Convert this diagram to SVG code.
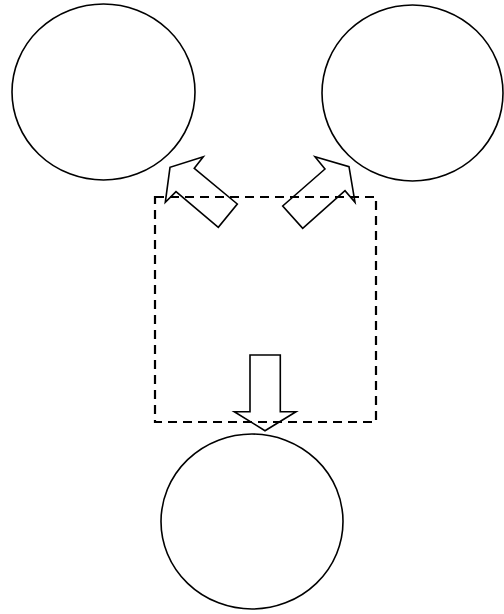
<svg xmlns="http://www.w3.org/2000/svg" width="504" height="614" viewBox="0 0 504 614">
<style>
.node{fill:none;stroke:#000;stroke-width:1.6}
.box{fill:none;stroke:#000;stroke-width:2.2;stroke-dasharray:9 6}
.arrow{fill:none;stroke:#000;stroke-width:1.6;stroke-linejoin:miter}
</style>
<rect width="504" height="614" fill="#fff"/>
<g id="node-left"><ellipse class="node" cx="103.5" cy="92" rx="91.5" ry="88"/></g>
<g id="node-right"><ellipse class="node" cx="412.5" cy="93" rx="90.5" ry="88"/></g>
<g id="node-bottom"><ellipse class="node" cx="252" cy="521.5" rx="91" ry="87.5"/></g>
<g id="node-center"><rect class="box" x="155" y="197" width="221" height="225"/></g>
<g id="connectors">
<polygon class="arrow" points="194.3,168.3 203.3,156.7 170,167.3 165.3,202.3 176,191.7 218.3,227.3 237.3,204"/>
<polygon class="arrow" points="325,169 315,156.7 349,166.7 355,202.3 345,190.7 302.7,228.3 282.7,206"/>
<polygon class="arrow" points="250,355 280.3,355 280.3,411.7 296,411.7 265,430.7 234.3,411.7 250,411.7"/>
</g>
</svg>
